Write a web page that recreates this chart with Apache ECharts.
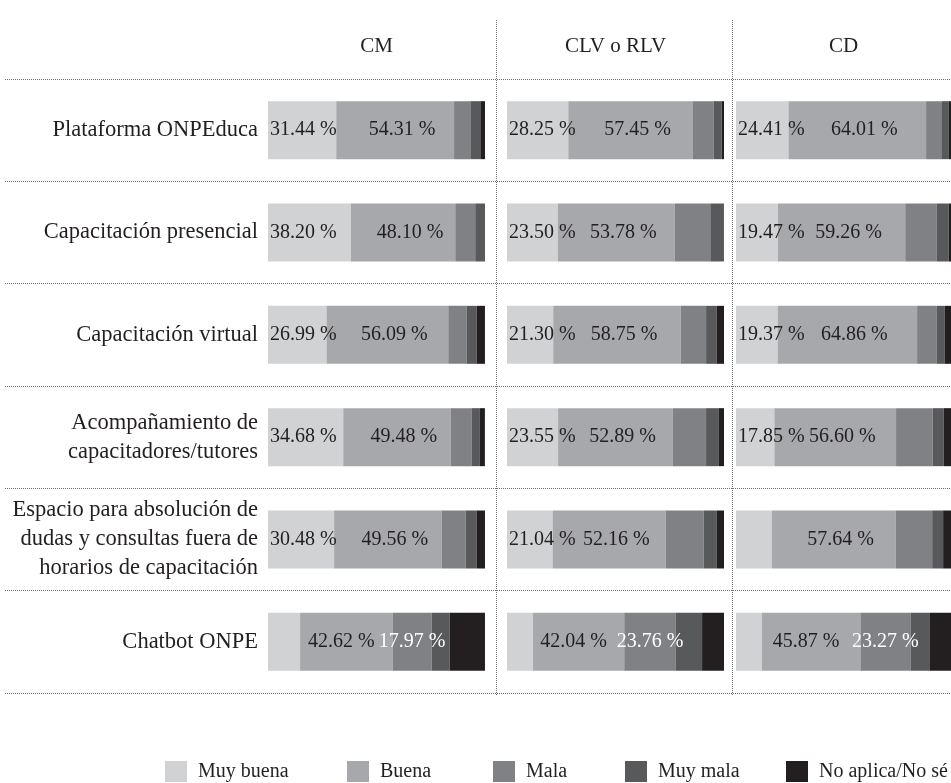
<!DOCTYPE html>
<html>
<head>
<meta charset="utf-8">
<script src="https://cdn.jsdelivr.net/npm/echarts@6/dist/echarts.min.js"></script>
<style>
  html, body { margin: 0; padding: 0; background: #ffffff; }
  #chart { width: 951px; height: 783px; }
</style>
</head>
<body>
<div id="chart"></div>
<script>
// ---- data ----
const categories = [
  'Plataforma ONPEduca',
  'Capacitación presencial',
  'Capacitación virtual',
  'Acompañamiento de\ncapacitadores/tutores',
  'Espacio para absolución de\ndudas y consultas fuera de\nhorarios de capacitación',
  'Chatbot ONPE'
];
const seriesNames = ['Muy buena', 'Buena', 'Mala', 'Muy mala', 'No aplica/No sé'];
const panelNames = ['CM', 'CLV o RLV', 'CD'];

const cmMuyBuena = [31.44, 38.20, 26.99, 34.68, 30.48, 14.80];
const cmBuena    = [54.31, 48.10, 56.09, 49.48, 49.56, 42.62];
const cmMala     = [7.50, 9.20, 8.40, 9.60, 11.10, 17.97];
const cmMuyMala  = [4.60, 4.50, 4.70, 3.70, 5.10, 8.30];
const cmNoAplica = [2.15, 0, 3.80, 2.50, 3.76, 16.30];

const clvMuyBuena = [28.25, 23.50, 21.30, 23.55, 21.04, 12.00];
const clvBuena    = [57.45, 53.78, 58.75, 52.89, 52.16, 42.04];
const clvMala     = [9.60, 16.40, 11.70, 15.30, 17.40, 23.76];
const clvMuyMala  = [3.60, 6.30, 4.80, 5.90, 6.10, 12.10];
const clvNoAplica = [1.10, 0, 3.45, 2.36, 3.30, 10.10];

const cdMuyBuena = [24.41, 19.47, 19.37, 17.85, 16.60, 12.00];
const cdBuena    = [64.01, 59.26, 64.86, 56.60, 57.64, 45.87];
const cdMala     = [7.40, 14.70, 9.20, 17.00, 17.00, 23.27];
const cdMuyMala  = [3.20, 5.50, 3.70, 5.10, 5.10, 8.80];
const cdNoAplica = [0.98, 1.07, 2.87, 3.45, 3.66, 10.06];

const panelData = [
  [cmMuyBuena, cmBuena, cmMala, cmMuyMala, cmNoAplica],
  [clvMuyBuena, clvBuena, clvMala, clvMuyMala, clvNoAplica],
  [cdMuyBuena, cdBuena, cdMala, cdMuyMala, cdNoAplica]
];
const labelThreshold = 17.5;

// ---- styling ----
const colors = ['#d1d2d4', '#a7a8ab', '#808184', '#58595b', '#231f20'];
const labelColors = ['#231f20', '#231f20', '#ffffff', '#ffffff', '#ffffff'];
const labelPositions = ['insideLeft', 'inside', 'inside', 'inside', 'inside'];
const FONT = '"Liberation Serif", "DejaVu Serif", serif';
const TEXT = '#231f20';
const gridTop = 79, gridHeight = 614;
const gridLefts = [268, 507, 736];
const gridWidth = 217;

const grids = [], xAxes = [], yAxes = [], series = [];

gridLefts.forEach((left, p) => {
  grids.push({ left: left, width: gridWidth, top: gridTop, height: gridHeight });
  xAxes.push({
    gridIndex: p, type: 'value', min: 0, max: 100, position: 'top',
    name: panelNames[p], nameLocation: 'middle', nameGap: 22,
    nameTextStyle: { fontFamily: FONT, fontSize: 21, color: TEXT },
    axisLine: { show: false }, axisTick: { show: false },
    axisLabel: { show: false }, splitLine: { show: false }
  });
  yAxes.push({
    gridIndex: p, type: 'category', data: categories, inverse: true,
    axisLine: { show: false }, axisTick: { show: false }, splitLine: { show: false },
    axisLabel: {
      show: p === 0, margin: 10, align: 'right',
      fontFamily: FONT, fontSize: 22.5, lineHeight: 29, color: TEXT
    }
  });
  seriesNames.forEach((name, s) => {
    const vals = panelData[p][s];
    const nextVals = panelData[p][s + 1];
    const data = vals.map((v, i) => {
      if (s !== 1) return v;
      // "Buena" labels sit slightly right of centre, unless the next segment is labelled too
      const crowded = nextVals && nextVals[i] >= labelThreshold;
      return { value: v, label: { offset: [crowded ? -5 : 7, 0] } };
    });
    series.push({
      name: name, type: 'bar', stack: 'panel' + p,
      xAxisIndex: p, yAxisIndex: p,
      barWidth: 58,
      itemStyle: { color: colors[s] },
      label: {
        show: true, position: labelPositions[s], distance: 2,
        fontFamily: FONT, fontSize: 20, color: labelColors[s],
        formatter: (v) => v.value >= labelThreshold ? v.value.toFixed(2) + ' %' : ''
      },
      emphasis: { disabled: true },
      data: data
    });
  });
});

// background grid for the dotted row separators
grids.push({ left: 5, right: 0, top: gridTop, height: gridHeight });
xAxes.push({ gridIndex: 3, type: 'value', show: false });
yAxes.push({
  gridIndex: 3, type: 'category', data: categories,
  axisLine: { show: false }, axisTick: { show: false }, axisLabel: { show: false },
  splitLine: { show: true, lineStyle: { color: '#6d6e70', type: [1, 1], width: 1 } }
});

const legendLefts = [165, 347, 493, 625, 786];
const legends = seriesNames.map((n, i) => ({
  data: [n], left: legendLefts[i], top: 761, padding: 0,
  icon: 'rect', itemWidth: 22, itemHeight: 21,
  selectedMode: false,
  textStyle: { fontFamily: FONT, fontSize: 20, color: TEXT, padding: [0, 0, 0, 6] }
}));

const chart = echarts.init(document.getElementById('chart'), null, { renderer: 'canvas' });
chart.setOption({
  backgroundColor: '#ffffff',
  animation: false,
  grid: grids, xAxis: xAxes, yAxis: yAxes,
  legend: legends,
  series: series,
  graphic: [
    { type: 'line', shape: { x1: 496.5, y1: 20, x2: 496.5, y2: 695 },
      style: { stroke: '#6d6e70', lineWidth: 1, lineDash: [1, 1] }, z: 0 },
    { type: 'line', shape: { x1: 732.5, y1: 20, x2: 732.5, y2: 695 },
      style: { stroke: '#6d6e70', lineWidth: 1, lineDash: [1, 1] }, z: 0 }
  ]
});
</script>
</body>
</html>
